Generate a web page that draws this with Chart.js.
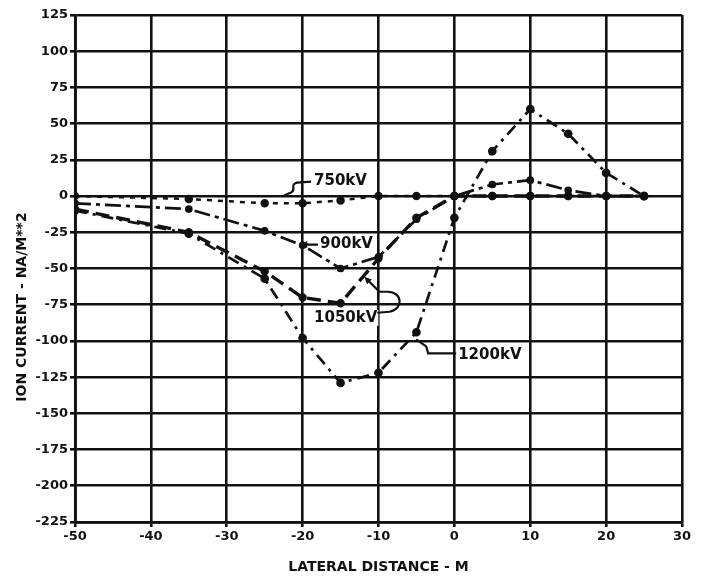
<!DOCTYPE html>
<html>
<head>
<meta charset="utf-8">
<script src="https://cdn.jsdelivr.net/npm/chart.js@4.4.1/dist/chart.umd.min.js"></script>
<style>
  html, body { margin: 0; padding: 0; background: #fff; }
  #wrap { width: 706px; height: 576px; position: relative; }
</style>
</head>
<body>
<div id="wrap"><canvas id="ionChart"></canvas></div>
<script>
// lateral distance (m) and ion current (nA/m^2) per line voltage
const distance = [-50, -35, -25, -20, -15, -10, -5, 0, 5, 10, 15, 20, 25];
const kv750  = [0, -2, -5, -5, -3, 0, 0, 0, 0, 0, 0, 0, 0];
const kv900  = [-5, -9, -24, -34, -50, -42, -16, 0, 8, 11, 4, 0, 0];
const kv1050 = [-9, -25, -52, -70, -74, -43, -15, 0, 0, 0, 0, 0, 0];
const kv1200 = [-10, -26, -57, -98, -129, -122, -94, -15, 31, 60, 43, 16, 0];

const seriesNames = ['750kV', '900kV', '1050kV', '1200kV'];
// where each curve label sits, in data units
const labelAt = [[-18.5, 10], [-17.7, -33.5], [-18.5, -84], [0.5, -110]];

const ink = '#111';
const font = 'DejaVu Sans, sans-serif';

const toPts = (ys) => distance.map((x, i) => ({ x, y: ys[i] }));

const labelPlugin = {
  id: 'curveLabels',
  afterDatasetsDraw(chart) {
    const { ctx, scales: { x, y } } = chart;
    ctx.save();
    ctx.fillStyle = ink;
    ctx.strokeStyle = ink;
    ctx.lineWidth = 2.2;
    ctx.font = 'bold 15px ' + font;
    ctx.textBaseline = 'middle';
    const px = (v) => x.getPixelForValue(v);
    const py = (v) => y.getPixelForValue(v);

    seriesNames.forEach((name, i) => {
      const lx = px(labelAt[i][0]), ly = py(labelAt[i][1]);
      // white knock-out behind text
      const w = ctx.measureText(name).width;
      ctx.fillStyle = '#fff';
      ctx.fillRect(lx - 1, ly - 8, w + 2, 16);
      ctx.fillStyle = ink;
      ctx.fillText(name, lx, ly);
    });

    // leaders
    ctx.beginPath();
    // 750kV squiggle
    let sx = px(-18.5) - 3, sy = py(10);
    ctx.moveTo(sx, sy);
    ctx.lineTo(sx - 14, sy + 1);
    ctx.bezierCurveTo(sx - 22, sy + 3, sx - 14, sy + 8, sx - 20, sy + 11);
    ctx.lineTo(sx - 27, sy + 14);
    // 900kV arrow
    sx = px(-17.7) - 2; sy = py(-33.5);
    ctx.moveTo(sx, sy);
    ctx.lineTo(sx - 14, sy);
    // 1050kV loop
    sx = px(-18.5) + ctx.measureText('1050kV').width; sy = py(-84);
    ctx.moveTo(sx, sy - 5);
    ctx.lineTo(sx + 12, sy - 6);
    ctx.bezierCurveTo(sx + 26, sy - 8, sx + 26, sy - 26, sx + 10, sy - 26);
    ctx.lineTo(sx + 2, sy - 26);
    ctx.lineTo(sx - 10, sy - 38);
    // 1200kV hook
    sx = px(0.5) - 2; sy = py(-110);
    ctx.moveTo(sx, sy - 2);
    ctx.lineTo(sx - 28, sy - 2);
    ctx.lineTo(sx - 30, sy - 9);
    ctx.lineTo(sx - 40, sy - 16);
    ctx.stroke();

    // arrow heads
    const head = (hx, hy, ang) => {
      ctx.beginPath();
      ctx.moveTo(hx, hy);
      ctx.lineTo(hx + 8 * Math.cos(ang + 0.45), hy + 8 * Math.sin(ang + 0.45));
      ctx.lineTo(hx + 8 * Math.cos(ang - 0.45), hy + 8 * Math.sin(ang - 0.45));
      ctx.closePath();
      ctx.fill();
    };
    head(px(-17.7) - 20, py(-33.5), 0);
    sx = px(-18.5) + ctx.measureText('1050kV').width; sy = py(-84);
    head(sx - 13, sy - 41, Math.PI / 4);

    // y axis title, set lower than centre like the original
    ctx.font = 'bold 14px ' + font;
    ctx.textAlign = 'center';
    ctx.translate(22, 307);
    ctx.rotate(-Math.PI / 2);
    ctx.fillText('ION CURRENT - NA/M**2', 0, 0);
    ctx.restore();
  }
};

new Chart(document.getElementById('ionChart'), {
  type: 'line',
  data: {
    datasets: [
      {
        label: '750kV', data: toPts(kv750),
        borderColor: ink, backgroundColor: ink,
        borderWidth: 2.5, borderDash: [5, 6],
        pointRadius: 3, pointStyle: 'circle'
      },
      {
        label: '900kV', data: toPts(kv900),
        borderColor: ink, backgroundColor: ink,
        borderWidth: 2.7, borderDash: [16, 5, 4, 5],
        pointRadius: 2.5, pointStyle: 'circle'
      },
      {
        label: '1050kV', data: toPts(kv1050),
        borderColor: ink, backgroundColor: ink,
        borderWidth: 3.4, borderDash: [14, 7],
        pointRadius: 2.5, pointStyle: 'circle'
      },
      {
        label: '1200kV', data: toPts(kv1200),
        borderColor: ink, backgroundColor: ink,
        borderWidth: 2.7, borderDash: [12, 6, 3, 6],
        pointRadius: 3, pointStyle: 'circle'
      }
    ]
  },
  options: {
    responsive: true,
    maintainAspectRatio: false,
    animation: false,
    layout: { padding: { top: 15, right: 24, bottom: 0, left: 0 } },
    plugins: {
      legend: { display: false },
      tooltip: { enabled: false }
    },
    scales: {
      x: {
        type: 'linear',
        min: -50, max: 30,
        ticks: {
          stepSize: 10, color: ink, padding: 2,
          font: { family: font, weight: 'bold', size: 13 }
        },
        grid: { color: ink, lineWidth: 2.6, tickLength: 5, tickColor: ink },
        border: { color: ink, width: 2.8 },
        title: {
          display: true, text: 'LATERAL DISTANCE - M', color: ink,
          font: { family: font, weight: 'bold', size: 14 },
          padding: { top: 4, bottom: 0 }
        },
        afterFit: (s) => { s.height = 54; }
      },
      y: {
        min: -225, max: 125,
        ticks: {
          stepSize: 25, color: ink, padding: 2,
          font: { family: font, weight: 'bold', size: 13 }
        },
        grid: { color: ink, lineWidth: 2.6, tickLength: 5, tickColor: ink },
        border: { color: ink, width: 2.8 },
        afterFit: (s) => { s.width = 75; }
      }
    }
  },
  plugins: [labelPlugin]
});
</script>
</body>
</html>
